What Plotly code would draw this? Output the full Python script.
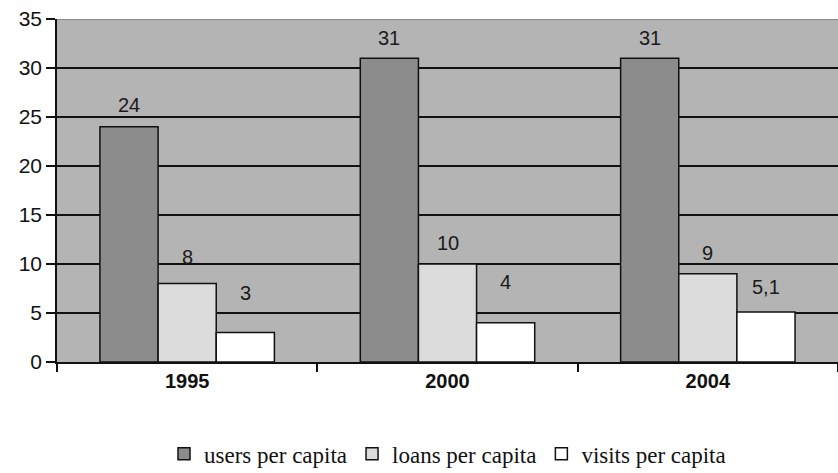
import plotly.graph_objects as go

years = ["1995", "2000", "2004"]
users = [24, 31, 31]
loans = [8, 10, 9]
visits = [3, 4, 5.1]

series = [
    ("users per capita", users, "#8c8c8c"),
    ("loans per capita", loans, "#dcdcdc"),
    ("visits per capita", visits, "#ffffff"),
]

# pixel lift of each value label above its bar top (per series, per year)
label_lift = [
    [22, 20, 20],
    [27, 21, 21],
    [40, 41, 25],
]

BARGAP = 0.33
SANS = "Liberation Sans, Arial, sans-serif"


def fmt(v):
    return f"{v:g}".replace(".", ",")


fig = go.Figure()
for name, vals, color in series:
    fig.add_trace(go.Bar(
        x=years, y=vals, name=name,
        marker=dict(color=color, line=dict(color="#111111", width=1.5)),
    ))

# value labels, centred over each bar of the group
n = len(series)
bw = (1 - BARGAP) / n
annotations = []
for si, (name, vals, color) in enumerate(series):
    off = (si - (n - 1) / 2) * bw
    for ci, v in enumerate(vals):
        annotations.append(dict(
            x=ci + off, y=v, xref="x", yref="y",
            text=fmt(v), showarrow=False,
            yanchor="middle", yshift=label_lift[si][ci],
            font=dict(family=SANS, size=20, color="#1a1a1a"),
        ))

fig.update_layout(
    width=838, height=473,
    margin=dict(l=57, r=0, t=19, b=111, autoexpand=False),
    paper_bgcolor="white",
    plot_bgcolor="#b4b4b4",
    barmode="group",
    bargap=BARGAP,
    bargroupgap=0,
    showlegend=True,
    legend=dict(
        orientation="h", x=0.5, xanchor="center", y=-0.268, yanchor="middle",
        font=dict(family="Liberation Serif, Times New Roman, serif", size=23, color="#111111"),
        itemwidth=30, tracegroupgap=0,
    ),
    xaxis=dict(
        range=[-0.5, 2.5],
        showline=True, linecolor="#111111", linewidth=1.5,
        ticks="outside", ticklen=8, tickcolor="#111111", tickwidth=1.5,
        tickson="boundaries",
        tickfont=dict(family=SANS, size=20, color="#111111", weight="bold"),
        ticklabelstandoff=0,
        showgrid=False,
    ),
    yaxis=dict(
        range=[0, 35], dtick=5,
        showline=True, linecolor="#111111", linewidth=1.5,
        ticks="outside", ticklen=9, tickcolor="#111111", tickwidth=1.5,
        tickfont=dict(family=SANS, size=21, color="#111111"),
        showgrid=True, gridcolor="#111111", gridwidth=1.5,
        zeroline=False,
    ),
    annotations=annotations,
    shapes=[dict(type="line", xref="paper", yref="y", x0=0, x1=1, y0=35, y1=35,
                 line=dict(color="#8a8a8a", width=2), layer="above")],
)

fig.write_html("out.html")
